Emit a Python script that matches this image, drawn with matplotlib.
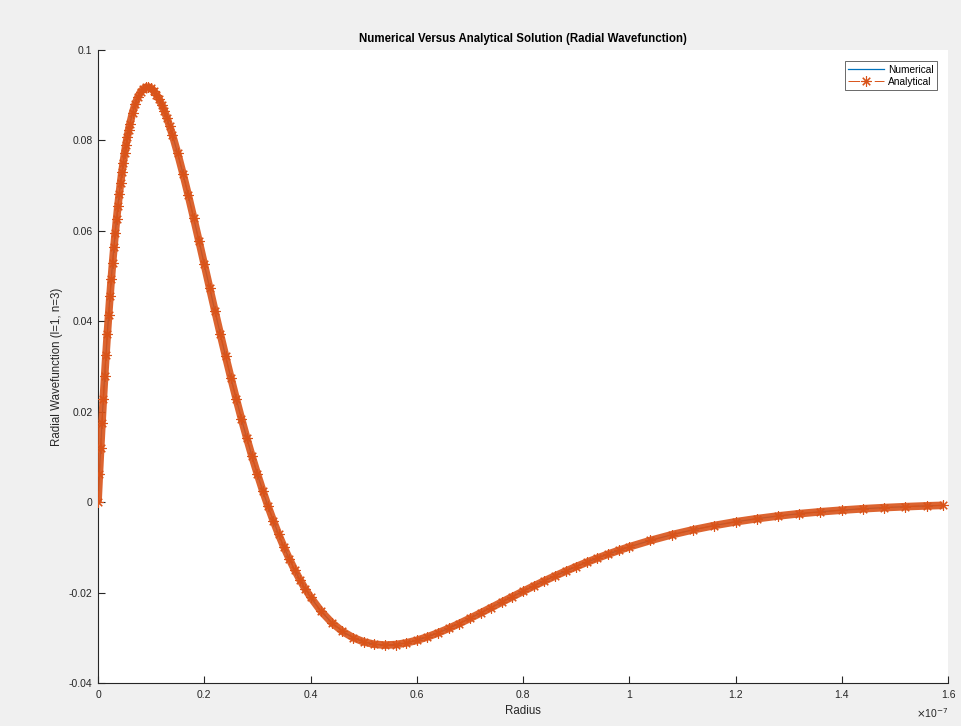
import numpy as np
import matplotlib
matplotlib.use("Agg")
import matplotlib.pyplot as plt
from matplotlib.ticker import FuncFormatter, MultipleLocator

# radius in nm, wavefunction values
radius_nm = [0, 0.25, 0.5, 0.75, 1.0, 1.25, 1.5, 1.75, 2.0, 2.25, 2.5, 2.75,
             3.0, 3.25, 3.5, 3.75, 4.0, 4.25, 4.5, 4.75, 5.0, 5.25, 5.5, 5.75, 6.0,
             6.5, 7.0, 7.5, 8.0, 8.5, 9.0, 9.5, 10, 10.5, 11, 11.5, 12, 12.5, 13,
             13.5, 14,
             15, 16, 17, 18, 19, 20, 21, 22, 23, 24, 25, 26, 27, 28, 29, 30, 31,
             32, 33, 34, 35, 36, 37, 38, 39, 40,
             42, 44, 46, 48, 50, 52, 54, 56, 58, 60, 62, 64, 66, 68, 70, 72, 74,
             76, 78, 80, 82, 84, 86, 88, 90, 92, 94, 96, 98, 100,
             104, 108, 112, 116, 120, 124, 128, 132, 136, 140, 144, 148, 152,
             156, 159]

psi_analytical = [0.0, 0.00612, 0.01196, 0.01752, 0.02281, 0.02784, 0.03262,
                  0.03715, 0.04144, 0.04551, 0.04935, 0.05298, 0.05641, 0.05963,
                  0.06266, 0.06550, 0.06816, 0.07064, 0.07296, 0.07511, 0.07711,
                  0.07896, 0.08065, 0.08221, 0.08363,
                  0.08609, 0.08805, 0.08957, 0.09067, 0.09138, 0.09174, 0.09177,
                  0.09150, 0.09095, 0.09015, 0.08913, 0.08789, 0.08647, 0.08487,
                  0.08312, 0.08124,
                  0.07712, 0.07262, 0.06785, 0.06288, 0.05778, 0.05263, 0.04746,
                  0.04234, 0.03729, 0.03236, 0.02756, 0.02292, 0.01845, 0.01418,
                  0.01010, 0.00623, 0.00257, -0.00088, -0.00411, -0.00713,
                  -0.00994, -0.01254, -0.01494, -0.01715, -0.01917, -0.02100,
                  -0.02415, -0.02665, -0.02857, -0.02996, -0.03090, -0.03144,
                  -0.03162, -0.03151, -0.03114, -0.03056, -0.02981, -0.02892,
                  -0.02793, -0.02685, -0.02571, -0.02453, -0.02333, -0.02212,
                  -0.02092, -0.01973, -0.01857, -0.01744, -0.01634, -0.01529,
                  -0.01427, -0.01330, -0.01238, -0.01151, -0.01068, -0.00989,
                  -0.00847, -0.00721, -0.00612, -0.00517, -0.00435, -0.00366,
                  -0.00306, -0.00255, -0.00213, -0.00177, -0.00146, -0.00121,
                  -0.00100, -0.00082, -0.00071]

# numerical curve sits right under the analytical one
psi_numerical = list(psi_analytical)

BLUE = '#0072BD'
ORANGE = '#D95319'
AXC = '#262626'

plt.rcParams['font.family'] = ['Liberation Sans', 'DejaVu Sans']
plt.rcParams['axes.unicode_minus'] = False

fig = plt.figure(figsize=(9.62, 7.26), dpi=100, facecolor='#F0F0F0')
ax = fig.add_axes([98 / 962, 1 - 683 / 726, 850 / 962, 633 / 726])

r = np.array(radius_nm) * 1e-9

ax.plot(r, psi_numerical, '-', color=BLUE, lw=0.9, label='Numerical', zorder=2)
# dense markers in the original merge into a thick band
ax.plot(r, psi_analytical, '-', color=ORANGE, lw=5.5, alpha=0.9,
        solid_capstyle='butt', zorder=3)
ax.plot(r, psi_analytical, color=ORANGE, lw=0.7, linestyle=(0, (12, 15)),
        marker=(8, 2, 0), markersize=7.5, markeredgewidth=0.8,
        label='Analytical', zorder=4)

ax.set_xlim(0, 1.6e-7)
ax.set_ylim(-0.04, 0.1)
ax.xaxis.set_major_locator(MultipleLocator(0.2e-7))
ax.yaxis.set_major_locator(MultipleLocator(0.02))
ax.xaxis.set_major_formatter(FuncFormatter(lambda v, p: f'{v / 1e-7:.1f}'.rstrip('0').rstrip('.') if abs(v) > 1e-12 else '0'))
ax.yaxis.set_major_formatter(FuncFormatter(lambda v, p: f'{v:.2f}'.rstrip('0').rstrip('.') if abs(v) > 1e-9 else '0'))

for s in ['top', 'right']:
    ax.spines[s].set_visible(False)
for s in ['left', 'bottom']:
    ax.spines[s].set_color(AXC)
    ax.spines[s].set_linewidth(0.8)
ax.tick_params(direction='in', length=5, width=0.8, colors=AXC, labelsize=7.5,
               labelcolor=AXC)
ax.tick_params(axis='x', pad=5)
ax.tick_params(axis='y', pad=4)

ax.set_title('Numerical Versus Analytical Solution (Radial Wavefunction)',
             fontsize=8.3, fontweight='bold', color='black', pad=6)
ax.set_xlabel('Radius', fontsize=8.3, color=AXC, labelpad=4)
ax.set_ylabel('Radial Wavefunction (l=1, n=3)', fontsize=8.3, color=AXC, labelpad=4)
ax.text(1.0, -0.037, r'$\times$10$^{-7}$', transform=ax.transAxes, ha='right',
        va='top', fontsize=7.5, color=AXC)

leg = ax.legend(loc='upper right', fontsize=7.3, frameon=True, fancybox=False,
                edgecolor=AXC, handlelength=3.5, borderaxespad=1.1,
                borderpad=0.35, labelspacing=0.2, handletextpad=0.4)
leg.get_frame().set_linewidth(0.6)

fig.savefig('out.png', dpi=100, facecolor=fig.get_facecolor())
